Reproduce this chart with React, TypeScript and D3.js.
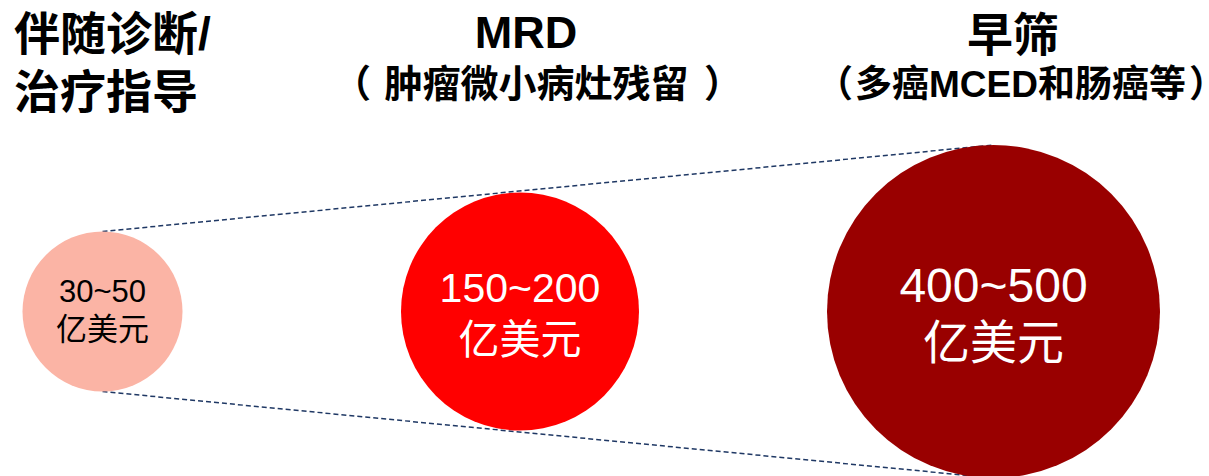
import React from "react";
import * as d3 from "d3";

const categories = ["伴随诊断/治疗指导", "MRD", "早筛"];
const titleLines = [["伴随诊断/", "治疗指导"], ["MRD"], ["早筛"]];
const subtitles = ["", "肿瘤微小病灶残留", "多癌MCED和肠癌等"];
const marketLow = [30, 150, 400];
const marketHigh = [50, 200, 500];
const unitLabel = "亿美元";

const W = 1209;
const H = 476;
const CY = 311.5;

const xScale = d3.scaleOrdinal<string, number>().domain(categories).range([102.5, 520, 993.5]);
const rScale = d3.scaleOrdinal<string, number>().domain(categories).range([80, 119, 166.5]);
const fillScale = d3.scaleOrdinal<string, string>().domain(categories).range(["#FBB4A5", "#FF0000", "#990000"]);
const textColor = d3.scaleOrdinal<string, string>().domain(categories).range(["#000000", "#FFFFFF", "#FFFFFF"]);
const numSize = d3.scaleOrdinal<string, number>().domain(categories).range([31, 41, 48]);
const cjkSize = d3.scaleOrdinal<string, number>().domain(categories).range([31, 41, 47]);
const line2Base = d3.scaleOrdinal<string, number>().domain(categories).range([340, 354, 359]);

const FONT = "'Liberation Sans', Arial, 'Noto Sans CJK SC', sans-serif";

function Subtitle({ text, cx, y, fs, lpX, rpX }: { text: string; cx: number; y: number; fs: number; lpX: number; rpX: number }) {
  return (
    <g fontFamily={FONT} fontWeight="bold" fontSize={fs} fill="#000">
      <text x={lpX} y={y} textAnchor="end" style={{ fontFeatureSettings: "'halt'" }}>（</text>
      <text x={cx} y={y} textAnchor="middle">{text}</text>
      <text x={rpX} y={y} textAnchor="start" style={{ fontFeatureSettings: "'halt'" }}>）</text>
    </g>
  );
}

export default function App() {
  const first = categories[0];
  const last = categories[categories.length - 1];
  const x0 = xScale(first), r0 = rScale(first);
  const x1 = xScale(last), r1 = rScale(last);
  const line = d3.line<[number, number]>();
  const topPath = line([[x0, CY - r0], [x1, CY - r1]]) as string;
  const botPath = line([[x0, CY + r0], [x1, CY + r1]]) as string;

  return (
    <svg width={W} height={H} style={{ position: "absolute", left: 0, top: 0, display: "block" }}>
      <rect x={0} y={0} width={W} height={H} fill="#ffffff" />
      <path d={topPath} stroke="#1F3864" strokeWidth={1.5} strokeDasharray="5 3" fill="none" />
      <path d={botPath} stroke="#1F3864" strokeWidth={1.5} strokeDasharray="5 3" fill="none" />
      {categories.map((c, i) => (
        <g key={c}>
          <circle cx={xScale(c)} cy={CY} r={rScale(c)} fill={fillScale(c)} />
          <text x={xScale(c)} y={302} textAnchor="middle" fontFamily={FONT} fontSize={numSize(c)} fill={textColor(c)}>
            {`${marketLow[i]}~${marketHigh[i]}`}
          </text>
          <text x={xScale(c)} y={line2Base(c)} textAnchor="middle" fontFamily={FONT} fontSize={cjkSize(c)} fill={textColor(c)}>
            {unitLabel}
          </text>
        </g>
      ))}
      <text x={14} y={50} fontFamily={FONT} fontWeight="bold" fontSize={46} fill="#000">{titleLines[0][0]}</text>
      <text x={14} y={108} fontFamily={FONT} fontWeight="bold" fontSize={46} fill="#000">{titleLines[0][1]}</text>
      <text x={526} y={48} textAnchor="middle" fontFamily={FONT} fontWeight="bold" fontSize={45} fill="#000">{titleLines[1][0]}</text>
      <Subtitle text={subtitles[1]} cx={536.5} y={97} fs={38} lpX={371} rpX={704} />
      <text x={1013} y={51} textAnchor="middle" fontFamily={FONT} fontWeight="bold" fontSize={46} fill="#000">{titleLines[2][0]}</text>
      <Subtitle text={subtitles[2]} cx={1020.5} y={97} fs={37} lpX={853} rpX={1189} />
    </svg>
  );
}
